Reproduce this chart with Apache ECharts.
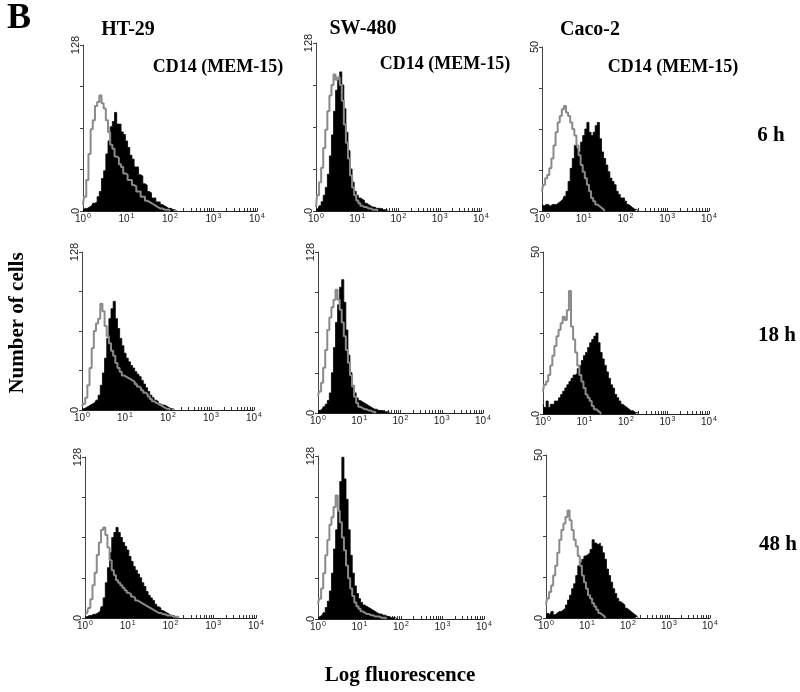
<!DOCTYPE html>
<html>
<head>
<meta charset="utf-8">
<script src="https://cdn.jsdelivr.net/npm/echarts@6/dist/echarts.min.js"></script>
<style>
html,body{margin:0;padding:0;background:#fff;}
#chart{width:800px;height:692px;}
</style>
</head>
<body>
<div id="chart"></div>
<script>
// ---------- DATA (channel width = 0.05 decade, starting at 10^0) ----------
const STEP = 0.05;
const cellLines = ['HT-29', 'SW-480', 'Caco-2'];
const timePoints = ['6 h', '18 h', '48 h'];
const antibodyLabel = 'CD14 (MEM-15)';
const yMaxByLine = [128, 128, 50];
const xTickExponents = [0, 1, 2, 3, 4];

// HT-29
const ht29_6h_ctrl  = [5,11,24,44,63,70,81,84,89,83,79,70,61,51,48,42,41,36,34,29,28,24,24,20,19,15,15,11,11,8,7,6,5,4,3,2,2,1,1,1,0];
const ht29_6h_cd14  = [1,2,2,3,4,6,7,11,15,25,31,44,54,65,69,76,67,67,61,59,54,49,43,40,34,34,28,27,21,20,15,14,10,10,7,7,5,4,3,2,2,1,1,0];
const ht29_18h_ctrl = [3,5,10,20,34,50,64,70,74,86,80,68,60,54,48,44,38,34,31,28,27,26,25,24,23,21,19,18,16,14,13,11,9,7,6,5,4,3,2,1,1,0];
const ht29_18h_cd14 = [1,1,2,3,4,5,6,8,12,20,30,42,58,74,82,88,74,66,58,52,46,42,39,36,34,31,29,27,24,21,18,15,12,10,8,7,5,4,4,3,2,1,1,0];
const ht29_48h_ctrl = [3,4,8,15,26,36,50,60,70,72,66,56,46,38,34,30,28,26,24,22,20,19,17,16,14,13,12,11,10,9,8,7,6,5,4,4,3,3,2,2,2,1,1,1,0];
const ht29_48h_cd14 = [1,1,2,2,3,3,4,5,9,16,28,40,52,64,68,72,68,64,60,57,54,49,45,41,38,35,32,28,25,21,18,16,14,11,9,8,6,5,4,3,2,2,1,1,0];

// SW-480
const sw480_6h_ctrl  = [3,12,22,33,48,62,76,88,96,104,100,102,96,84,66,52,40,27,18,12,8,6,4,3,3,2,2,1,1,1,0];
const sw480_6h_cd14  = [1,2,4,7,12,18,28,42,58,76,92,100,106,96,78,60,46,32,22,15,12,10,9,8,6,5,4,3,3,2,2,2,1,1,1,0];
const sw480_18h_ctrl = [14,17,24,36,50,66,76,84,90,98,90,82,72,61,50,40,30,21,13,8,5,4,3,3,2,2,1,1,0];
const sw480_18h_cd14 = [2,2,3,5,7,10,16,32,52,72,86,100,106,88,66,46,32,22,16,12,10,9,8,7,6,5,4,3,3,2,2,2,1,1,1,0];
const sw480_48h_ctrl = [12,16,24,36,50,62,74,80,88,97,85,76,64,54,42,32,24,18,13,10,8,6,5,4,4,3,3,2,2,2,1,1,1,0];
const sw480_48h_cd14 = [1,2,3,5,9,14,22,36,55,70,85,108,127,110,94,70,50,36,26,20,16,13,11,10,9,8,7,6,5,4,4,3,3,2,2,1,1,1,0];

// Caco-2
const caco2_6h_ctrl  = [6,8,10,11,13,16,20,24,27,29,31,32,30,29,27,25,23,20,17,14,12,10,8,6,4,3,2,1.5,1,0.5,0];
const caco2_6h_cd14  = [2,1.5,2,2,1.5,2,2,2,2.5,3,3.5,4.5,6,9,13,16,20,19,18,21,23,25,27,24,23,24,26,27,22,18,16,14,12,10,9,8,6,5,4,4,3,2,1.5,1,0.5,0.5,0];
const caco2_18h_ctrl = [7,9,10,12,15,18,21,24,26,28,30,29,32,38,27,23,19,15,12,10,8,6,5,4,2.5,1.5,1,0.5,0];
const caco2_18h_cd14 = [3,2,4,2,3,3,4,4,5,6,7,8,9,10,11,12,12.5,14,15,16.5,18,19,20.5,22,23,24,25,22,19,17,15,13,11,9,8,6,5,4,3,2.5,2,1.5,1,1,0.5,0.5,0];
const caco2_48h_ctrl = [4,6,8,10,13,16,20,24,27,29,31,33,30,27,24,22,19,16,13,11,9,7,6,4.5,3.5,2.5,1.5,1,0.5,0];
const caco2_48h_cd14 = [1,1.5,1,2,1,1.5,2,2,2.5,3,4,5.5,7,9,10.5,13,16,17,18,19,19.5,20,21,24,23,22.5,23,22,20,18,15,13,11,9,7.5,6,5,4.5,4,3,2.5,2,1.5,1,0.5,0];

const panels = [
  [ht29_6h_ctrl, ht29_6h_cd14], [sw480_6h_ctrl, sw480_6h_cd14], [caco2_6h_ctrl, caco2_6h_cd14],
  [ht29_18h_ctrl, ht29_18h_cd14], [sw480_18h_ctrl, sw480_18h_cd14], [caco2_18h_ctrl, caco2_18h_cd14],
  [ht29_48h_ctrl, ht29_48h_cd14], [sw480_48h_ctrl, sw480_48h_cd14], [caco2_48h_ctrl, caco2_48h_cd14]
];

// ---------- LAYOUT ----------
const gridBoxes = [
  [83, 45, 174, 166], [316, 43, 165, 168], [542, 47, 167, 164],
  [82, 252, 172, 158], [318, 252, 165, 161], [543, 252, 166, 162],
  [85, 457, 171, 161], [318, 456, 166, 163], [546, 455, 164, 163]
];

const minorTickPos = [];
for (let n = 0; n < 4; n++) for (let k = 1; k <= 9; k++) minorTickPos.push(n + Math.log10(k));
minorTickPos.push(4);

const toXY = arr => arr.map((v, i) => [i * STEP, v]);

const grids = [], xAxes = [], yAxes = [], series = [];
panels.forEach((p, idx) => {
  const col = idx % 3;
  const ymax = yMaxByLine[col];
  const b = gridBoxes[idx];
  grids.push({ left: b[0], top: b[1], width: b[2], height: b[3], containLabel: false });
  xAxes.push({
    gridIndex: idx, type: 'value', min: 0, max: 4, interval: 1,
    axisLine: { show: true, lineStyle: { color: '#222', width: 1 } },
    axisTick: { show: true, inside: true, length: 3, customValues: minorTickPos, lineStyle: { color: '#333', width: 1 } },
    splitLine: { show: false },
    axisLabel: {
      show: true, margin: 2, customValues: xTickExponents,
      formatter: v => '{b|10}{s|' + Math.round(v) + '}',
      rich: {
        b: { fontSize: 10, fontFamily: 'Liberation Sans', color: '#222', verticalAlign: 'bottom', lineHeight: 11 },
        s: { fontSize: 7, fontFamily: 'Liberation Sans', color: '#222', verticalAlign: 'top', lineHeight: 11, padding: [0, 0, 0, 1] }
      }
    }
  });
  yAxes.push({
    gridIndex: idx, type: 'value', min: 0, max: ymax, interval: ymax / 4,
    axisLine: { show: true, lineStyle: { color: '#444', width: 1 } },
    axisTick: { show: true, length: 3, lineStyle: { color: '#444' } },
    splitLine: { show: false },
    axisLabel: {
      show: true, rotate: 90, margin: 2, fontSize: 11, fontFamily: 'Liberation Sans', color: '#222',
      formatter: v => (v === 0 || v === ymax) ? String(v) : ''
    }
  });
  series.push({
    type: 'line', xAxisIndex: idx, yAxisIndex: idx, data: toXY(p[1]), step: 'middle',
    showSymbol: false, symbol: 'none', silent: true, z: 2,
    lineStyle: { color: '#000', width: 0.8 },
    areaStyle: { color: '#000', opacity: 1 }
  });
  series.push({
    type: 'line', xAxisIndex: idx, yAxisIndex: idx, data: toXY(p[0]), step: 'middle',
    showSymbol: false, symbol: 'none', silent: true, z: 3,
    lineStyle: { color: '#8a8a8a', width: 2 }
  });
});

const serifBold = 'bold {S}px "Liberation Serif", "DejaVu Serif", serif';
const font = s => serifBold.replace('{S}', s);
const txt = (text, x, y, size, rot) => ({
  type: 'text', x: x, y: y, rotation: rot || 0, silent: true,
  style: { text: text, x: 0, y: 0, font: font(size), fill: '#000', align: 'center', verticalAlign: 'middle', textAlign: 'center', textVerticalAlign: 'middle' }
});

const graphics = [
  txt('B', 19, 19, 36),
  txt(cellLines[0], 128, 30, 20),
  txt(cellLines[1], 363, 29, 20),
  txt(cellLines[2], 590, 30, 20),
  txt(antibodyLabel, 218, 67, 18),
  txt(antibodyLabel, 445, 64, 18),
  txt(antibodyLabel, 673, 67, 18),
  txt(timePoints[0], 771, 136, 21),
  txt(timePoints[1], 777, 336, 21),
  txt(timePoints[2], 778, 545, 21),
  txt('Number of cells', 18, 323, 21, Math.PI / 2),
  txt('Log fluorescence', 400, 676, 21)
];

const chart = echarts.init(document.getElementById('chart'), null, { renderer: 'canvas' });
chart.setOption({
  animation: false,
  backgroundColor: '#fff',
  grid: grids, xAxis: xAxes, yAxis: yAxes, series: series,
  graphic: graphics
});
</script>
</body>
</html>
